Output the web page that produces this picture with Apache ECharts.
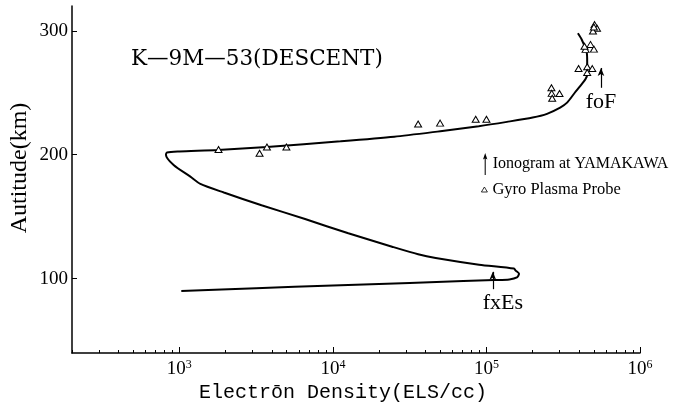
<!DOCTYPE html>
<html><head><meta charset="utf-8">
<script src="https://cdn.jsdelivr.net/npm/echarts@6/dist/echarts.min.js"></script>
<style>html,body{margin:0;padding:0;background:#fff}#c{width:682px;height:406px}</style>
</head><body><div id="c"></div>
<script>
// Electron density profile (ELS/cc) vs altitude (km), ordered by altitude
const profileDensity = [1030, 3160, 10000, 31600, 70800, 112000, 141000, 158000, 163000, 155000, 151000, 89500, 46700, 35900, 24300, 12600, 6590, 3430, 1950, 1370, 1180, 918, 818, 832, 1000, 1780, 3720, 11200, 25100, 50100, 89100, 136000, 200000, 248000, 302000, 335000, 376000, 409000, 442000, 453000, 453000, 449000, 417000, 394000];
const profileAltitude = [90, 92.2, 94.5, 96.5, 98, 98.9, 99.4, 101, 104, 106.5, 108.1, 111.3, 116.7, 119.7, 125.8, 136.6, 148.1, 159.2, 169.5, 176.5, 182.3, 191.7, 200, 201.8, 202.6, 203.8, 206.3, 210.8, 214.5, 219, 223, 226.5, 230, 233, 238, 242, 250, 255.5, 261, 265, 275, 283, 293, 298];
// Gyro Plasma Probe measurements
const probeDensity = [1800, 3330, 3720, 4980, 35900, 49900, 85100, 100000, 265000, 266000, 268000, 299000, 398000, 453000, 489000, 453000, 442000, 476000, 501000, 435000, 506000, 525000, 494000, 501000];
const probeAltitude = [204.2, 201.2, 206.2, 206.2, 224.8, 225.5, 228.6, 228.6, 254, 249.5, 245.5, 249.4, 269.6, 271, 269.5, 266.3, 285, 289, 285.2, 287.5, 305, 302, 299.8, 303];
// Ionogram at YAMAKAWA markers
const ionogramLabels = ['foF', 'fxEs'];
const ionogramDensity = [557000, 110000];
const ionogramFrom = [254, 91.5];
const ionogramTo = [270, 105.5];
// Axis ticks
const xMajorTicks = [1e3, 1e4, 1e5, 1e6];
const yTicks = [100, 200, 300];
const xMin = 200, xMax = 1e6, yMin = 40, yMax = 320;

const xMinorTicks = [];
for (let d = 100; d < 1e6; d *= 10) {
  for (let k = 2; k <= 9; k++) {
    const v = k * d;
    if (v >= xMin && v <= xMax) xMinorTicks.push(v);
  }
}

const chart = echarts.init(document.getElementById('c'), null, {renderer: 'canvas'});
const serif = 'Liberation Serif';
const black = '#000';
const labelOffsets = {foF: [0, 0], fxEs: [10, 0]};

chart.setOption({
  animation: false,
  backgroundColor: '#fff',
  title: {
    text: 'K—9M—53(DESCENT)',
    left: 131, top: 48, padding: 0,
    textStyle: {fontFamily: 'DejaVu Serif', fontSize: 21.5, fontWeight: 'normal', color: black}
  },
  legend: [
    {
      data: ['Ionogram at YAMAKAWA'], left: 483, top: 153, padding: 0, orient: 'vertical',
      itemWidth: 5, itemHeight: 22, selectedMode: false,
      icon: 'path://M3,0 L6,9 L3.7,7.5 L3.7,30 L2.3,30 L2.3,7.5 L0,9 Z',
      itemStyle: {color: black, borderWidth: 0},
      textStyle: {fontFamily: serif, fontSize: 16, color: black}
    },
    {
      data: ['Gyro Plasma Probe'], left: 481, top: 181, padding: 0, orient: 'vertical',
      itemWidth: 6, itemHeight: 5, selectedMode: false, icon: 'triangle',
      itemStyle: {color: '#fff', borderColor: black, borderWidth: 0.8},
      textStyle: {fontFamily: serif, fontSize: 16.5, color: black}
    }
  ],
  grid: {left: 72, right: 42, top: 6, bottom: 53, outerBoundsMode: 'none', containLabel: false},
  xAxis: [
    {
      type: 'log', logBase: 10, min: xMin, max: xMax, position: 'bottom',
      axisLine: {lineStyle: {color: black, width: 1.5}},
      axisTick: {customValues: xMajorTicks, inside: true, length: 6, lineStyle: {color: black, width: 1}},
      axisLabel: {
        customValues: xMajorTicks, margin: 4, color: black,
        formatter: v => '{b|10}{s|' + Math.round(Math.log10(v)) + '}',
        rich: {
          b: {fontFamily: serif, fontSize: 19, color: black, verticalAlign: 'bottom', lineHeight: 22},
          s: {fontFamily: serif, fontSize: 12, color: black, verticalAlign: 'bottom', lineHeight: 22, padding: [0, 0, 8, 0]}
        }
      },
      splitLine: {show: false},
      name: 'Electrōn Density(ELS/cc)', nameLocation: 'middle', nameGap: 30, nameMoveOverlap: false,
      nameTextStyle: {fontFamily: 'Liberation Mono', fontSize: 20, color: black, padding: [0, 26, 0, 0]}
    },
    {
      type: 'log', logBase: 10, min: xMin, max: xMax, position: 'bottom',
      axisLine: {show: false},
      axisTick: {customValues: xMinorTicks, inside: true, length: 3, lineStyle: {color: black, width: 1}},
      axisLabel: {show: false},
      splitLine: {show: false}
    }
  ],
  yAxis: {
    type: 'value', min: yMin, max: yMax,
    axisLine: {lineStyle: {color: black, width: 1.5}},
    axisTick: {customValues: yTicks, inside: true, length: 5, lineStyle: {color: black, width: 1}},
    axisLabel: {customValues: yTicks, margin: 4, fontFamily: serif, fontSize: 19, color: black},
    splitLine: {show: false},
    name: 'Autitude(km)', nameLocation: 'middle', nameGap: 40, nameMoveOverlap: false,
    nameTextStyle: {fontFamily: serif, fontSize: 24, color: black, padding: [0, 0, 0, 23]}
  },
  series: [
    {
      name: 'profile', type: 'line', smooth: 0.25, symbol: 'none',
      lineStyle: {color: black, width: 2}, z: 3,
      data: profileDensity.map((d, i) => [d, profileAltitude[i]])
    },
    {
      name: 'Gyro Plasma Probe', type: 'scatter', symbol: 'triangle', symbolSize: [7, 6],
      itemStyle: {color: '#fff', borderColor: black, borderWidth: 1, opacity: 1}, z: 4,
      data: probeDensity.map((d, i) => [d, probeAltitude[i]])
    },
    {
      name: 'Ionogram at YAMAKAWA', type: 'line', data: [], symbol: 'none',
      itemStyle: {color: black}, lineStyle: {color: black},
      markLine: {
        silent: true, symbol: ['none', 'arrow'], symbolSize: [5, 8], animation: false,
        lineStyle: {color: black, width: 1.2, type: 'solid'},
        label: {show: true, position: 'start', distance: 3, formatter: p => p.name,
                fontFamily: serif, fontSize: 22, color: black},
        data: ionogramLabels.map((n, i) => [
          {name: n, coord: [ionogramDensity[i], ionogramFrom[i]], label: {offset: labelOffsets[n]}},
          {coord: [ionogramDensity[i], ionogramTo[i]]}
        ])
      }
    }
  ]
});
</script></body></html>
